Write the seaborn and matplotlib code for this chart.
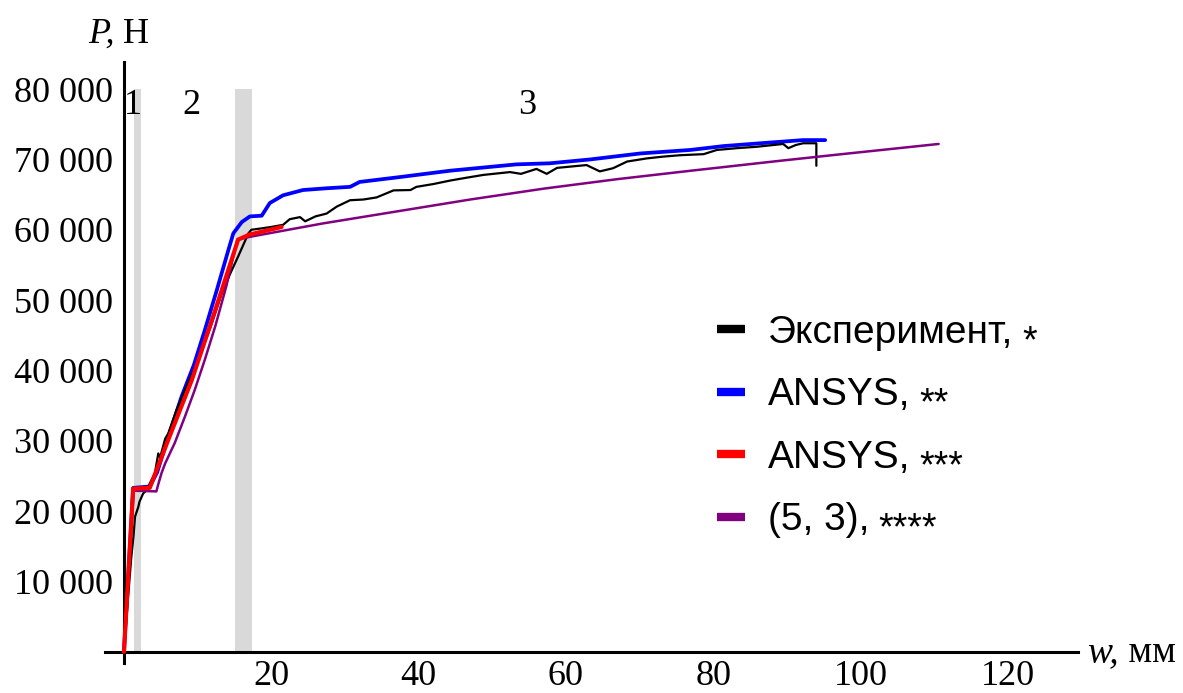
import matplotlib
matplotlib.use("Agg")
import matplotlib.pyplot as plt
import seaborn as sns
import pandas as pd

# ---- data ----
w_exp = [0, 0.5, 1.0, 1.3, 1.5, 1.95, 2.1, 2.6, 3.1, 3.5, 4.2, 4.66, 4.9, 5.6, 6.0, 7.15, 8.6, 10.1,
         11.7, 13.3, 14.4, 15.5, 16.9, 17.3, 18.7, 20.0, 21.6, 22.5, 23.9, 24.6, 26.0, 27.5, 28.9,
         30.7, 32.5, 34.3, 36.6, 38.9, 39.7, 42.0, 44.3, 46.5, 48.8, 50.6, 52.4, 53.9, 56.0, 57.4,
         58.8, 60.8, 62.8, 63.6, 64.6, 66.4, 68.3, 71.0, 73.2, 75.5, 78.7, 80.5, 83.2, 85.9, 89.5,
         90.2, 91.2, 92.2, 94.0, 94.0]
p_exp = [0, 7000, 13500, 16500, 19200, 20600, 21300, 22500, 23000, 23900, 25400, 28200, 27600, 30300,
         31000, 34400, 38000, 41500, 46000, 51000, 53700, 56200, 59500, 60000, 60200, 60400, 60700,
         61500, 61800, 61200, 61900, 62300, 63300, 64200, 64300, 64600, 65600, 65650, 66100, 66500,
         67000, 67400, 67800, 68000, 68200, 67950, 68650, 67950, 68800, 69000, 69200, 68800, 68300,
         68750, 69700, 70150, 70400, 70600, 70750, 71350, 71600, 71800, 72200, 71600, 72050, 72300,
         72300, 69100]

w_ans2 = [0, 1.25, 3.5, 4.5, 6.0, 7.83, 9.5, 11.0, 12.6, 14.17, 14.85, 16.0, 17.1, 18.7, 19.8, 21.6,
          24.3, 27.5, 30.7, 32.0, 37.5, 44.3, 53.3, 57.8, 63.3, 70.1, 76.9, 81.4, 86.4, 92.2, 95.2]
p_ans2 = [0, 23300, 23500, 25500, 30500, 36300, 40800, 45800, 51400, 57100, 59500, 61100, 61900,
          62000, 63800, 64900, 65650, 65900, 66100, 66800, 67500, 68400, 69300, 69450, 70000, 70850,
          71350, 71900, 72300, 72750, 72750]

w_ans3 = [0, 1.25, 3.5, 6.0, 9.2, 12.4, 15.5, 17.0, 19.0, 21.4]
p_ans3 = [0, 23200, 23300, 30100, 38600, 48600, 58600, 59300, 59800, 60400]

w_model = [0, 1.25, 4.4, 4.6, 5.1, 5.6, 6.9, 8.3, 9.6, 11.0, 12.4, 13.9, 15.4, 17.1, 27.0, 37.0,
           47.0, 57.0, 67.0, 77.0, 89.0, 97.0, 110.6]
p_model = [0, 22900, 22800, 23600, 25400, 26800, 29700, 33500, 37200, 41600, 46300, 52000, 58600,
           59000, 60900, 62600, 64300, 65850, 67200, 68400, 69800, 70700, 72200]

series_names = ["Эксперимент,", "ANSYS,", "ANSYS,", "(5, 3),"]
series_marks = ["*", "**", "***", "****"]
series_colors = ["#000000", "#0000ff", "#ff0000", "#800080"]

bands = [(1.35, 2.25), (15.07, 17.42)]
band_top = 80000
zone_labels = ["1", "2", "3"]
zone_x = [1.2, 9.1, 54.7]
zone_y = 77700

x_ticks = [20, 40, 60, 80, 100, 120]
y_ticks = [10000, 20000, 30000, 40000, 50000, 60000, 70000, 80000]
y_tick_labels = ["10 000", "20 000", "30 000", "40 000", "50 000", "60 000", "70 000", "80 000"]

# ---- plot ----
sns.set_theme(style="white")
plt.rcParams["font.family"] = ["Liberation Serif", "DejaVu Serif"]
for k in ["text.color", "axes.labelcolor", "xtick.color", "ytick.color"]:
    plt.rcParams[k] = "black"

fig = plt.figure(figsize=(11.83, 6.93), dpi=100)
ax = fig.add_axes([0.0886, 0.0433, 0.8225, 0.8677])
ax.set_xlim(-2.6, 129.5)
ax.set_ylim(-1600, 83900)

for lo, hi in bands:
    ax.fill_between([lo, hi], 0, band_top, color="#d9d9d9", lw=0, zorder=0)

dfs = [
    pd.DataFrame({"w": w_exp, "P": p_exp}),
    pd.DataFrame({"w": w_ans2, "P": p_ans2}),
    pd.DataFrame({"w": w_ans3, "P": p_ans3}),
    pd.DataFrame({"w": w_model, "P": p_model}),
]
widths = [1.6, 2.7, 3.0, 1.8]
zorders = [3, 2, 5, 4]
for df, lab, col, lw, zo in zip(dfs, series_names, series_colors, widths, zorders):
    sns.lineplot(data=df, x="w", y="P", sort=False, estimator=None, color=col, lw=lw,
                 label=lab, ax=ax, zorder=zo)

for t, xv in zip(zone_labels, zone_x):
    ax.text(xv, zone_y, t, ha="center", va="center", fontsize=26)

for s in ["top", "right"]:
    ax.spines[s].set_visible(False)
ax.spines["left"].set_position(("data", 0))
ax.spines["bottom"].set_position(("data", 0))
for s in ["left", "bottom"]:
    ax.spines[s].set_linewidth(2.2)
    ax.spines[s].set_color("black")

ax.set_xticks(x_ticks)
ax.set_xticklabels([str(v) for v in x_ticks])
ax.set_yticks(y_ticks)
ax.set_yticklabels(y_tick_labels)
ax.tick_params(axis="both", direction="out", length=5, width=1.8, colors="black",
               labelsize=26, pad=3)
ax.tick_params(axis="x", pad=1)
ax.set_xlabel("")
ax.set_ylabel("")

# axis titles
t1 = fig.text(88 / 1183, 1 - 43 / 693, "P,", fontsize=26, style="italic", va="baseline")
ax.annotate(" Н", xy=(1, 0), xycoords=t1, va="bottom", ha="left", fontsize=26,
            annotation_clip=False)
t2 = fig.text(1087 / 1183, 1 - 662 / 693, "w,", fontsize=27, style="italic", va="baseline")
ax.annotate(" мм", xy=(1, 0), xycoords=t2, va="bottom", ha="left", fontsize=27,
            annotation_clip=False)

sans = ["Liberation Sans", "DejaVu Sans"]
leg = ax.legend(loc="upper left", bbox_to_anchor=(717 / 1183, 1 - 315 / 693),
                bbox_transform=fig.transFigure, frameon=False,
                prop={"family": sans, "size": 28},
                handlelength=0.72, handletextpad=0.6, labelspacing=0.68, borderpad=0,
                borderaxespad=0)
for h in leg.legend_handles:
    h.set_linewidth(6)
    h.set_solid_capstyle("butt")

fig.canvas.draw()
renderer = fig.canvas.get_renderer()
for txt, mark in zip(leg.get_texts(), series_marks):
    bb = txt.get_window_extent(renderer)
    fig.text(bb.x1 + 9, bb.y0 - 9, mark, transform=None, va="bottom", ha="left",
             fontsize=27, family=sans)

fig.savefig("out.png", dpi=100)
